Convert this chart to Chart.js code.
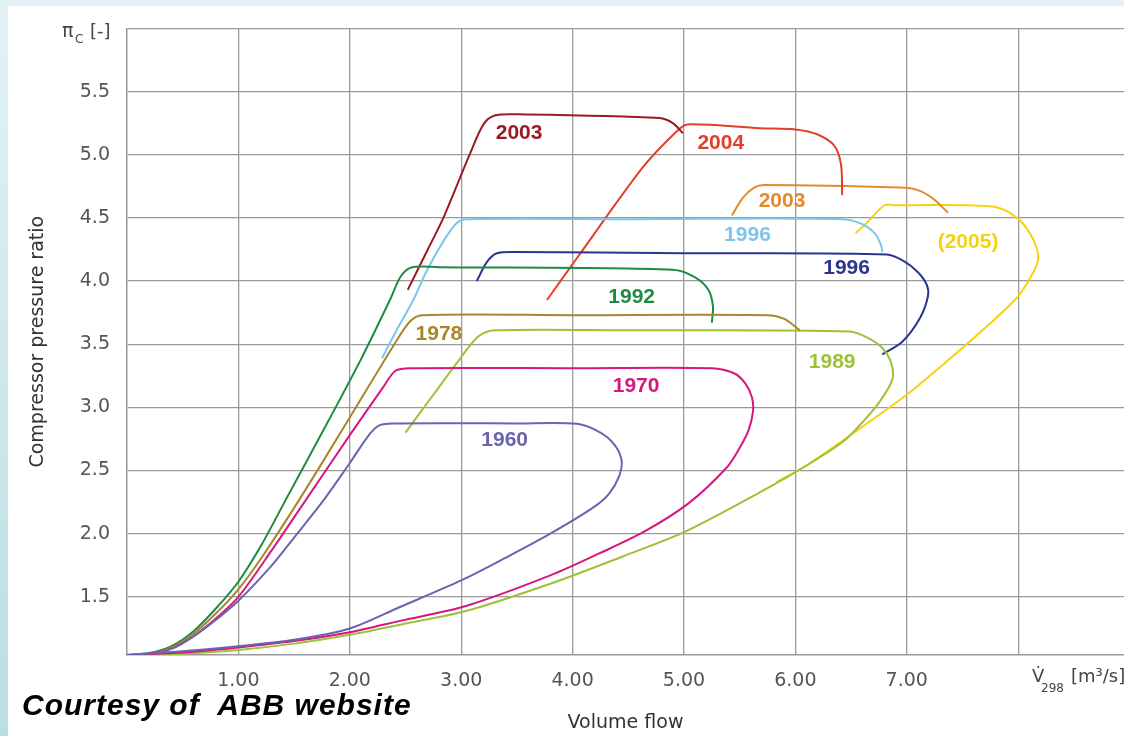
<!DOCTYPE html>
<html>
<head>
<meta charset="utf-8">
<script src="https://cdn.jsdelivr.net/npm/chart.js@4.4.1/dist/chart.umd.min.js"></script>
<style>
  html, body { margin: 0; padding: 0; }
  body { width: 1124px; height: 736px; overflow: hidden; position: relative;
         background: linear-gradient(to bottom, #e3f2f4, #b9dee4); }
  #panel { position: absolute; left: 8px; top: 6px; right: 0; bottom: 0; background: #fff; }
  #chart { position: absolute; left: 0; top: 0; }
  #credit { position: absolute; left: 22px; top: 690px; color: #000; white-space: pre; letter-spacing: 1px;
            font: italic bold 30px "Liberation Sans", Arial, sans-serif; line-height: 30px; }
</style>
</head>
<body>
<div id="panel"></div>
<canvas id="chart" width="1124" height="736"></canvas>
<div id="credit">Courtesy of  ABB website</div>
<script>
// axis ticks
const xTicks = [1, 2, 3, 4, 5, 6, 7, 8];
const yTicks = [1.5, 2.0, 2.5, 3.0, 3.5, 4.0, 4.5, 5.0, 5.5];

// compressor maps: [volume flow, pressure ratio]
const map1960 = [[0,1.04],[0.2,1.05],[0.4,1.09],[0.6,1.19],[0.8,1.32],[1.0,1.47],[1.3,1.75],[1.5,1.97],[1.76,2.26],[2.0,2.56],[2.18,2.79],[2.27,2.86],[2.4,2.873],
  [3.5,2.873],[4.04,2.87],[4.25,2.8],[4.38,2.7],[4.44,2.58],[4.42,2.46],[4.33,2.32],[4.19,2.21],[3.8,2.0],[3.4,1.81],[3.0,1.63],[2.45,1.42],[2.0,1.25],[1.5,1.16],[1.0,1.11],[0.5,1.07],[0,1.04]];
const map1970 = [[0,1.04],[0.2,1.05],[0.4,1.09],[0.6,1.19],[0.8,1.33],[1.0,1.5],[1.3,1.87],[1.6,2.26],[2.0,2.78],[2.3,3.16],[2.41,3.29],[2.55,3.31],
  [4.0,3.31],[5.25,3.31],[5.45,3.27],[5.55,3.19],[5.61,3.08],[5.62,2.97],[5.58,2.82],[5.5,2.68],[5.38,2.52],[5.04,2.24],[4.65,2.02],[4.23,1.84],[3.8,1.67],[3.05,1.43],[2.45,1.31],[2.0,1.22],[1.5,1.15],[1.0,1.1],[0.5,1.06],[0,1.04]];
const map1978 = [[0,1.04],[0.2,1.05],[0.4,1.1],[0.6,1.21],[0.8,1.37],[1.0,1.56],[1.2,1.8],[1.54,2.26],[2.0,2.92],[2.4,3.5],[2.54,3.68],[2.65,3.73],
  [4.0,3.73],[5.75,3.73],[5.9,3.7],[6.04,3.61]];
const map1989 = [[2.5,2.8],[2.75,3.1],[2.96,3.35],[3.15,3.56],[3.3,3.61],[4.5,3.61],[6.49,3.6],[6.65,3.55],[6.78,3.47],[6.86,3.35],[6.87,3.22],
  [6.76,3.05],[6.6,2.88],[6.43,2.73],[6.1,2.54],[5.77,2.37],[5.02,2.02],[4.45,1.82],[3.82,1.61],[3.05,1.39],[2.45,1.28],[2.0,1.2],[1.5,1.13],[1.0,1.08],[0.5,1.05],[0,1.04]];
const map1992 = [[0,1.04],[0.2,1.055],[0.4,1.11],[0.6,1.23],[0.8,1.41],[1.0,1.62],[1.2,1.9],[1.42,2.26],[1.8,2.88],[2.1,3.38],[2.36,3.85],[2.46,4.04],[2.56,4.11],
  [2.8,4.11],[4.9,4.09],[5.1,4.03],[5.22,3.93],[5.26,3.8],[5.25,3.67]];
const map1996a = [[2.29,3.39],[2.42,3.61],[2.57,3.85],[2.69,4.08],[2.85,4.33],[2.96,4.46],[3.05,4.49],[4.5,4.49],[6.43,4.49],[6.6,4.45],[6.72,4.37],[6.77,4.28],[6.78,4.23]];
const map1996b = [[3.14,4.0],[3.23,4.15],[3.32,4.22],[3.5,4.23],[5.0,4.22],[6.82,4.21],[6.97,4.16],[7.1,4.07],[7.18,3.97],[7.19,3.88],[7.12,3.71],[6.96,3.52],[6.78,3.42]];
const map2003a = [[2.52,3.93],[2.7,4.25],[2.84,4.5],[3.08,5.01],[3.2,5.24],[3.3,5.31],[3.5,5.32],[4.78,5.29],[4.9,5.25],[4.99,5.17]];
const map2004 = [[3.77,3.85],[4.07,4.22],[4.63,4.9],[4.94,5.19],[5.03,5.24],[5.68,5.21],[6.0,5.2],[6.2,5.16],[6.35,5.07],[6.41,4.92],[6.42,4.68]];
const map2003b = [[5.43,4.52],[5.53,4.66],[5.63,4.74],[5.72,4.76],[6.94,4.74],[7.1,4.72],[7.24,4.65],[7.37,4.54]];
const map2005 = [[6.54,4.38],[6.64,4.46],[6.8,4.6],[6.9,4.6],[7.77,4.59],[7.99,4.5],[8.13,4.34],[8.18,4.18],[8.13,4.06],[7.99,3.87],[7.68,3.61],
  [7.3,3.32],[7.0,3.1],[6.43,2.74],[6.1,2.54],[5.83,2.41]];

const maps = [
  ['1960', map1960, '#6b64b0'],
  ['1970', map1970, '#d6177f'],
  ['1978', map1978, '#a8862c'],
  ['1989', map1989, '#9dc237'],
  ['1992', map1992, '#1c8c3e'],
  ['1996', map1996a, '#7cc6ea'],
  ['1996', map1996b, '#2a3590'],
  ['2003', map2003a, '#9b1b22'],
  ['2004', map2004, '#e2402a'],
  ['2003', map2003b, '#e38b2c'],
  ['(2005)', map2005, '#f6d30d']
];

// where each year label sits (data coordinates)
const tagSpots = [[3.39,2.74],[4.57,3.17],[2.80,3.58],[6.33,3.36],[4.53,3.87],[5.57,4.36],[6.46,4.10],[3.52,5.17],[5.33,5.09],[5.88,4.63],[7.55,4.31]];

const tickFont = { family: '"DejaVu Sans", sans-serif', size: 19 };

const annotations = {
  id: 'annotations',
  afterDraw(chart) {
    const { ctx, chartArea, scales: { x, y } } = chart;
    ctx.save();
    ctx.textAlign = 'center';
    ctx.textBaseline = 'middle';
    ctx.font = 'bold 21px "Liberation Sans", Arial, sans-serif';
    maps.forEach(([name, , color], i) => {
      ctx.fillStyle = color;
      ctx.fillText(name, x.getPixelForValue(tagSpots[i][0]), y.getPixelForValue(tagSpots[i][1]));
    });

    ctx.fillStyle = '#333';
    ctx.font = '19px "DejaVu Sans", sans-serif';
    ctx.fillText('Volume flow', (chartArea.left + chartArea.right) / 2, 723);
    ctx.save();
    ctx.translate(38, (chartArea.top + chartArea.bottom) / 2);
    ctx.rotate(-Math.PI / 2);
    ctx.fillText('Compressor pressure ratio', 0, 0);
    ctx.restore();

    // unit labels with subscripts
    ctx.textAlign = 'left';
    ctx.textBaseline = 'alphabetic';
    ctx.fillStyle = '#444';
    ctx.font = '19px "DejaVu Sans", sans-serif';
    ctx.fillText('\u03c0', 62, 37);
    ctx.font = '12px "DejaVu Sans", sans-serif';
    ctx.fillText('C', 75, 43);
    ctx.font = '18px "DejaVu Sans", sans-serif';
    ctx.fillText('[-]', 90, 37);

    ctx.font = '18px "DejaVu Sans", sans-serif';
    ctx.fillText('V\u0307', 1032, 682);
    ctx.font = '12px "DejaVu Sans", sans-serif';
    ctx.fillText('298', 1041, 692);
    ctx.font = '18px "DejaVu Sans", sans-serif';
    ctx.fillText('[m\u00b3/s]', 1071, 682);
    ctx.restore();
  }
};

new Chart(document.getElementById('chart'), {
  type: 'line',
  data: {
    datasets: maps.map(([name, pts, color]) => ({
      label: name,
      data: pts.map(([vx, vy]) => ({ x: vx, y: vy })),
      borderColor: color,
      borderWidth: 2,
      pointRadius: 0,
      tension: 0.3,
      fill: false
    }))
  },
  options: {
    responsive: false,
    animation: false,
    layout: { padding: { top: 28, left: 0, right: 0, bottom: 0 } },
    plugins: { legend: { display: false }, tooltip: { enabled: false } },
    scales: {
      x: {
        type: 'linear',
        min: 0,
        max: 8.95,
        afterBuildTicks: s => { s.ticks = xTicks.map(v => ({ value: v })); },
        afterFit: s => { s.height = 81; s.paddingLeft = 0; s.paddingRight = 0; },
        ticks: {
          autoSkip: false,
          maxRotation: 0,
          padding: 15,
          color: '#555',
          font: tickFont,
          callback: v => (v >= 8 ? '' : v.toFixed(2))
        },
        grid: { color: '#9a9a9a', lineWidth: 1.3, drawTicks: false },
        border: { color: '#9a9a9a', width: 1.5 }
      },
      y: {
        type: 'linear',
        min: 1.04,
        max: 6.0,
        afterBuildTicks: s => { s.ticks = yTicks.concat([6.0]).map(v => ({ value: v })); },
        afterFit: s => { s.width = 127; },
        ticks: {
          autoSkip: false,
          padding: 17,
          color: '#555',
          font: tickFont,
          callback: v => (v >= 6 ? '' : v.toFixed(1))
        },
        grid: { color: '#9a9a9a', lineWidth: 1.3, drawTicks: false },
        border: { color: '#9a9a9a', width: 1.5 }
      }
    }
  },
  plugins: [annotations]
});
</script>
</body>
</html>
